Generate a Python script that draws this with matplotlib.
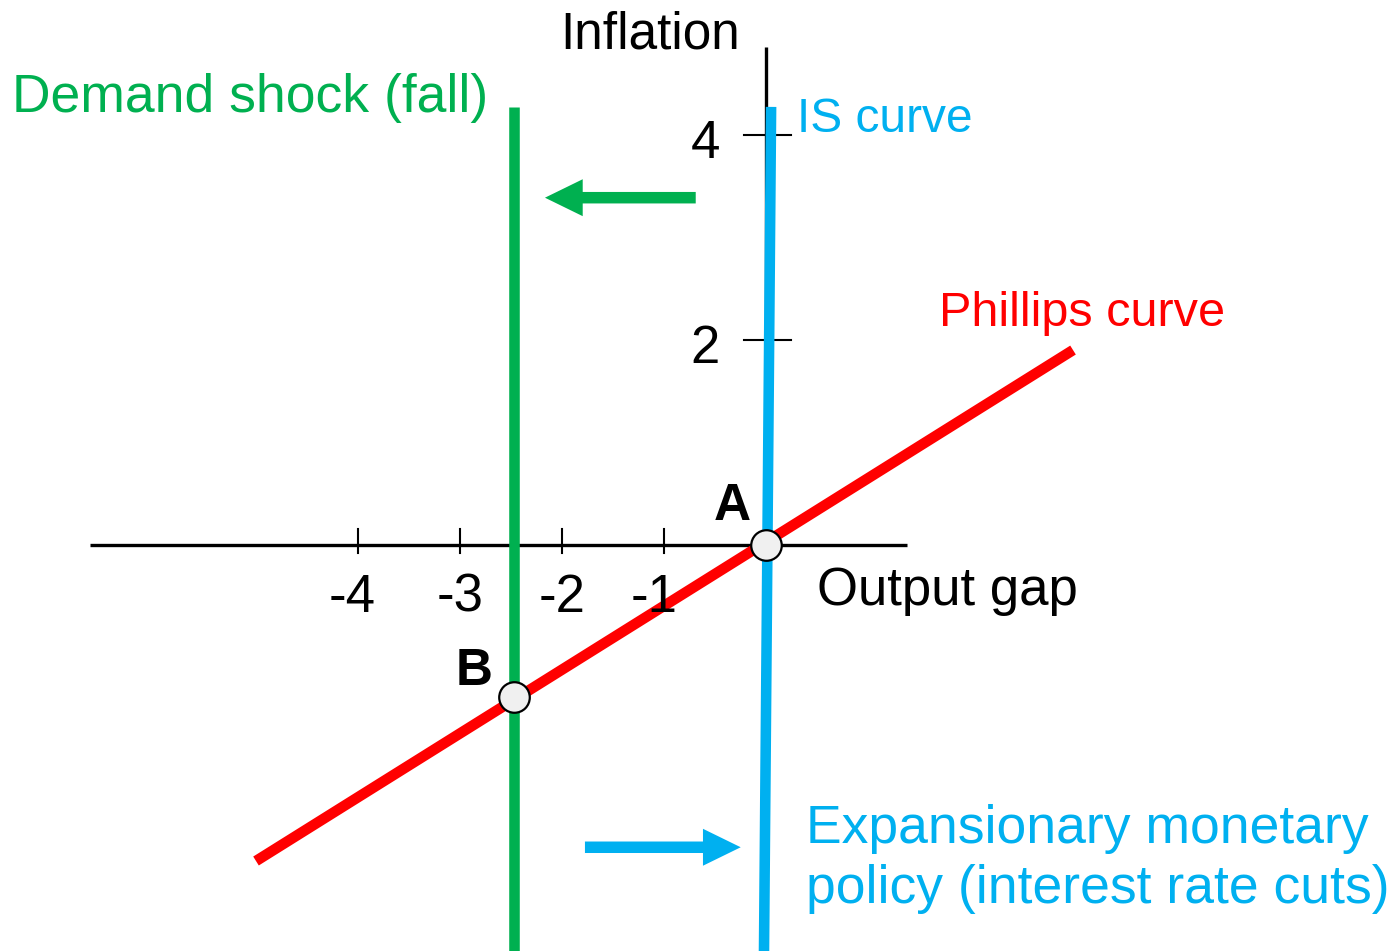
import matplotlib
matplotlib.use("Agg")
import matplotlib.pyplot as plt

plt.rcParams['font.family'] = ['Liberation Sans', 'DejaVu Sans']

# ---- data ----
x_ticks = [-4, -3, -2, -1]
x_tick_labels = ["-4", "-3", "-2", "-1"]
y_ticks = [2, 4]
y_tick_labels = ["2", "4"]
phillips_x = [-5.0, 3.01]
phillips_y = [-3.08, 1.9]
is_x = [0.05, -0.02]
is_y = [4.27, -4.0]
shock_x = [-2.47, -2.47]
shock_y = [4.27, -4.0]
point_names = ["A", "B"]
point_x = [0.0, -2.47]
point_y = [0.0, -1.48]

GREEN = "#00B050"
BLUE = "#00B0F0"
RED = "#FF0000"

fig = plt.figure(figsize=(13.92, 9.51), dpi=100)
ax = fig.add_axes([0, 0, 1, 1])
ax.set_xlim(-766 / 102, (1392 - 766) / 102)
ax.set_ylim(-(951 - 545) / 102.6, 545 / 102.6)
ax.axis('off')

# axes
ax.plot([-6.63, 1.38], [0, 0], color='black', lw=2.4, solid_capstyle='butt', zorder=1)
ax.plot([0, 0], [0, 4.85], color='black', lw=2.4, solid_capstyle='butt', zorder=1)
label_nudge = {-4: -0.06, -3: 0.0, -2: 0.0, -1: -0.1}
for t, lab in zip(x_ticks, x_tick_labels):
    ax.plot([t, t], [-0.078, 0.156], color='black', lw=1.5, zorder=1)
    ax.text(t + label_nudge[t], -0.65, lab, ha='center', va='baseline',
            fontsize=38, color='black', zorder=5)
for t, lab in zip(y_ticks, y_tick_labels):
    ax.plot([-0.216, 0.245], [t, t], color='black', lw=1.5, zorder=1)
    ax.text(-0.45, t - 0.23, lab, ha='right', va='baseline', fontsize=38, color='black', zorder=5)

# curves
ax.plot(phillips_x, phillips_y, color=RED, lw=7.6, solid_capstyle='butt', zorder=2)
ax.plot(shock_x, shock_y, color=GREEN, lw=7.6, solid_capstyle='butt', zorder=3)
ax.plot(is_x, is_y, color=BLUE, lw=7.6, solid_capstyle='butt', zorder=3)

# points
ax.plot(point_x, point_y, 'o', ms=22, mfc='#F0F0F0', mec='black', mew=1.6, zorder=6, ls='none')
ax.text(-0.33, 0.244, point_names[0], ha='center', va='baseline', fontsize=37, fontweight='bold', zorder=5)
ax.text(-2.86, -1.364, point_names[1], ha='center', va='baseline', fontsize=37, fontweight='bold', zorder=5)

# arrows
ax.arrow(-0.689, 3.385, -2.167 + 0.689, 0, width=0.112, head_width=0.36, head_length=0.37,
         length_includes_head=True, color=GREEN, lw=0, zorder=4)
ax.arrow(-1.775, -2.946, -0.248 + 1.775, 0, width=0.112, head_width=0.36, head_length=0.37,
         length_includes_head=True, color=BLUE, lw=0, zorder=4)

# labels
ax.text(-1.137, 4.84, "Inflation", ha='center', va='baseline', fontsize=37, color='black')
ax.text(-7.39, 4.22, "Demand shock (fall)", ha='left', va='baseline', fontsize=38.5, color=GREEN)
ax.text(0.30, 4.025, "IS curve", ha='left', va='baseline', fontsize=34.5, color=BLUE)
ax.text(1.70, 2.13, "Phillips curve", ha='left', va='baseline', fontsize=35, color=RED)
ax.text(0.50, -0.585, "Output gap", ha='left', va='baseline', fontsize=38, color='black')
ax.text(0.39, -2.90, "Expansionary monetary", ha='left', va='baseline', fontsize=38.5, color=BLUE)
ax.text(0.39, -3.49, "policy (interest rate cuts)", ha='left', va='baseline', fontsize=38.5, color=BLUE)

fig.savefig("out.png", dpi=100)
